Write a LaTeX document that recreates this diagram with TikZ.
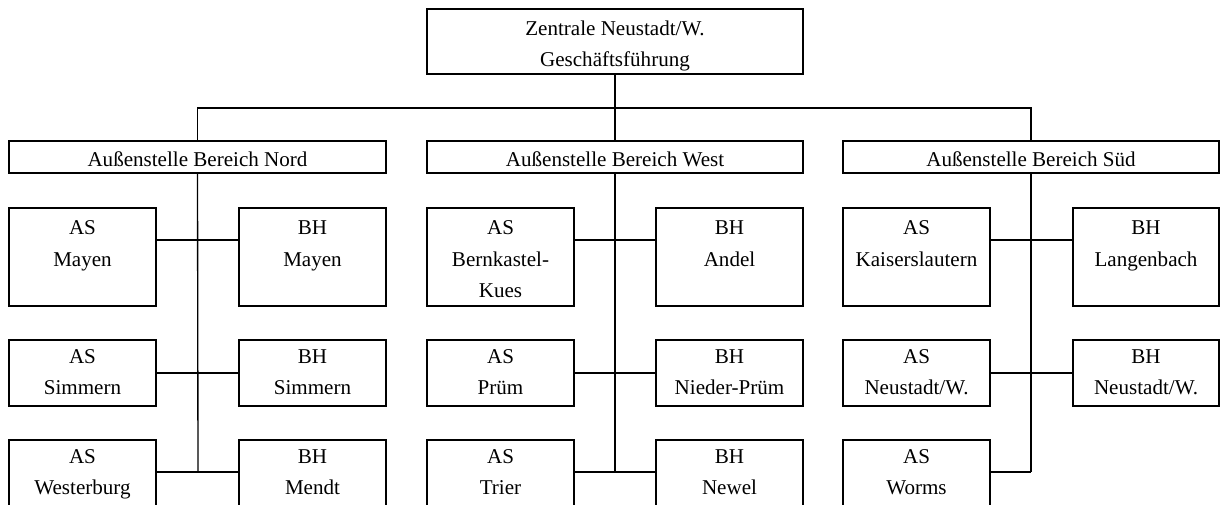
\documentclass[tikz,border=0pt]{standalone}
\usepackage{fontspec}
\setmainfont{Liberation Serif}
\newlength{\pxu}\setlength{\pxu}{0.75pt}
\newcommand{\obox}[4]{\parbox[t][#2\pxu][t]{#1\pxu}{\centering\rule{0pt}{#3\pxu}#4}}
\begin{document}
\begin{tikzpicture}[x=0.75pt,y=-0.75pt,
  bx/.style={draw,line width=1pt,inner sep=0pt,outer sep=0pt,anchor=north west,
    font=\fontsize{15.8pt}{23.5pt}\selectfont},
  ln/.style={line width=1pt}]
\useasboundingbox (0,0) rectangle (1220,504);
% top
\node[bx] (top) at (427,9) {\obox{376}{65}{26}{Zentrale Neustadt/W.\\Geschäftsführung}};
% headers
\node[bx] (nord) at (9,141) {\obox{377}{32}{25.5}{Außenstelle Bereich Nord}};
\node[bx] (west) at (427,141) {\obox{376}{32}{25.5}{Außenstelle Bereich West}};
\node[bx] (sued) at (843,141) {\obox{376}{32}{25.5}{Außenstelle Bereich Süd}};
% Nord column
\node[bx] (asN1) at (9,208) {\obox{147}{98}{26.7}{AS\\Mayen}};
\node[bx] (bhN1) at (239,208) {\obox{147}{98}{26.7}{BH\\Mayen}};
\node[bx] (asN2) at (9,340) {\obox{147}{66}{23.3}{AS\\Simmern}};
\node[bx] (bhN2) at (239,340) {\obox{147}{66}{23.3}{BH\\Simmern}};
\node[bx] (asN3) at (9,440) {\obox{147}{66}{23.3}{AS\\Westerburg}};
\node[bx] (bhN3) at (239,440) {\obox{147}{66}{23.3}{BH\\Mendt}};
% West column
\node[bx] (asW1) at (427,208) {\obox{147}{98}{26.7}{AS\\Bernkastel-\\Kues}};
\node[bx] (bhW1) at (656,208) {\obox{147}{98}{26.7}{BH\\Andel}};
\node[bx] (asW2) at (427,340) {\obox{147}{66}{23.3}{AS\\Prüm}};
\node[bx] (bhW2) at (656,340) {\obox{147}{66}{23.3}{BH\\Nieder-Prüm}};
\node[bx] (asW3) at (427,440) {\obox{147}{66}{23.3}{AS\\Trier}};
\node[bx] (bhW3) at (656,440) {\obox{147}{66}{23.3}{BH\\Newel}};
% Sued column
\node[bx] (asS1) at (843,208) {\obox{147}{98}{26.7}{AS\\Kaiserslautern}};
\node[bx] (bhS1) at (1073,208) {\obox{146}{98}{26.7}{BH\\Langenbach}};
\node[bx] (asS2) at (843,340) {\obox{147}{66}{23.3}{AS\\Neustadt/W.}};
\node[bx] (bhS2) at (1073,340) {\obox{146}{66}{23.3}{BH\\Neustadt/W.}};
\node[bx] (asS3) at (843,440) {\obox{147}{66}{23.3}{AS\\Worms}};
% junction coordinates
\coordinate (bus) at (615,108);
\coordinate (jN1) at (198,240);
\coordinate (jN2) at (198,373);
\coordinate (jN3) at (198,472);
\coordinate (jW1) at (615,240);
\coordinate (jW2) at (615,373);
\coordinate (jW3) at (615,472);
\coordinate (jS1) at (1031,240);
\coordinate (jS2) at (1031,373);
\coordinate (jS3) at (1031,472);
% bus
\draw[ln] (top.south) -- (west.north);
\draw[ln] (nord.north) -- (nord.north |- bus) -- (sued.north |- bus) -- (sued.north);
% trunks
\draw[ln] (nord.south) -- (jN3);
\draw[ln] (west.south) -- (jW3);
\draw[ln] (sued.south) -- (jS3);
% branches
\draw[ln] (asN1.east |- jN1) -- (bhN1.west |- jN1);
\draw[ln] (asN2.east |- jN2) -- (bhN2.west |- jN2);
\draw[ln] (asN3.east |- jN3) -- (bhN3.west |- jN3);
\draw[ln] (asW1.east |- jW1) -- (bhW1.west |- jW1);
\draw[ln] (asW2.east |- jW2) -- (bhW2.west |- jW2);
\draw[ln] (asW3.east |- jW3) -- (bhW3.west |- jW3);
\draw[ln] (asS1.east |- jS1) -- (bhS1.west |- jS1);
\draw[ln] (asS2.east |- jS2) -- (bhS2.west |- jS2);
\draw[ln] (asS3.east |- jS3) -- (jS3);
\end{tikzpicture}
\end{document}
